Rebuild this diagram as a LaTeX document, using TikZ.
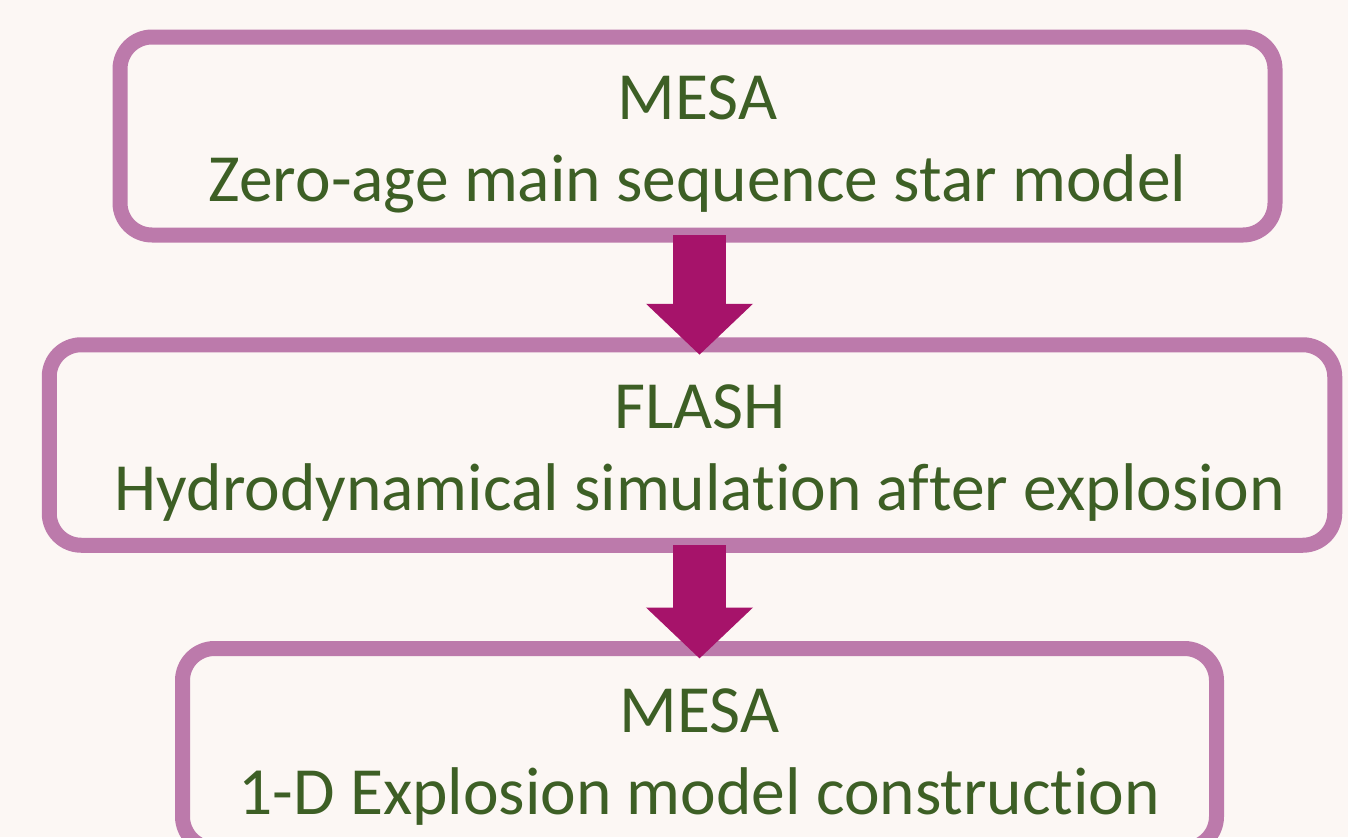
\documentclass[tikz,border=0pt]{standalone}
\usepackage{fontspec}
\setmainfont{Carlito}[Ligatures=NoCommon]
\usetikzlibrary{arrows.meta}
\definecolor{bgcol}{RGB}{252,247,244}
\definecolor{boxcol}{RGB}{188,122,171}
\definecolor{arrowcol}{RGB}{166,19,106}
\definecolor{textcol}{RGB}{61,95,37}
\newcommand{\topstrut}{\rule{0pt}{0.6cm}}
\begin{document}
\begin{tikzpicture}
	\tikzset{stage/.style=
        {line width=0.15cm, draw=boxcol, rounded corners=0.32cm, align=center, text=textcol, outer sep=0pt, inner sep=0pt, font=\fontsize{19.2}{23.3}\selectfont},
        flow/.style={line width=0.53cm, draw=arrowcol, -{Triangle[length=0.51cm, width=1.04cm]}, shorten >=-0.1cm}
     }
	\fill[bgcol] (0,0) rectangle (13.48,-8.37);
	\useasboundingbox (0,0) rectangle (13.48,-8.37);
	\clip (0,0) rectangle (13.48,-8.37);
	\node[stage, minimum width=11.55cm, minimum height=1.98cm] (mesa1) at (6.975,-1.36) {\topstrut MESA\\Zero-age main sequence star model};
	\node[stage, minimum width=12.855cm, minimum height=2.005cm] (flash) at (6.92,-4.45) {\topstrut\hspace*{0.16cm}FLASH\\\hspace*{0.16cm}Hydrodynamical simulation after explosion};
	\node[stage, minimum width=10.34cm, minimum height=2cm] (mesa2) at (6.995,-7.485) {\topstrut MESA\\1-D Explosion model construction};
	\coordinate (spine) at (6.995,0);
	
	\draw[flow] (mesa1.south -| spine) -- (flash.north -| spine);
	\draw[flow] (flash.south -| spine) -- (mesa2.north -| spine);
\end{tikzpicture}
\end{document}
